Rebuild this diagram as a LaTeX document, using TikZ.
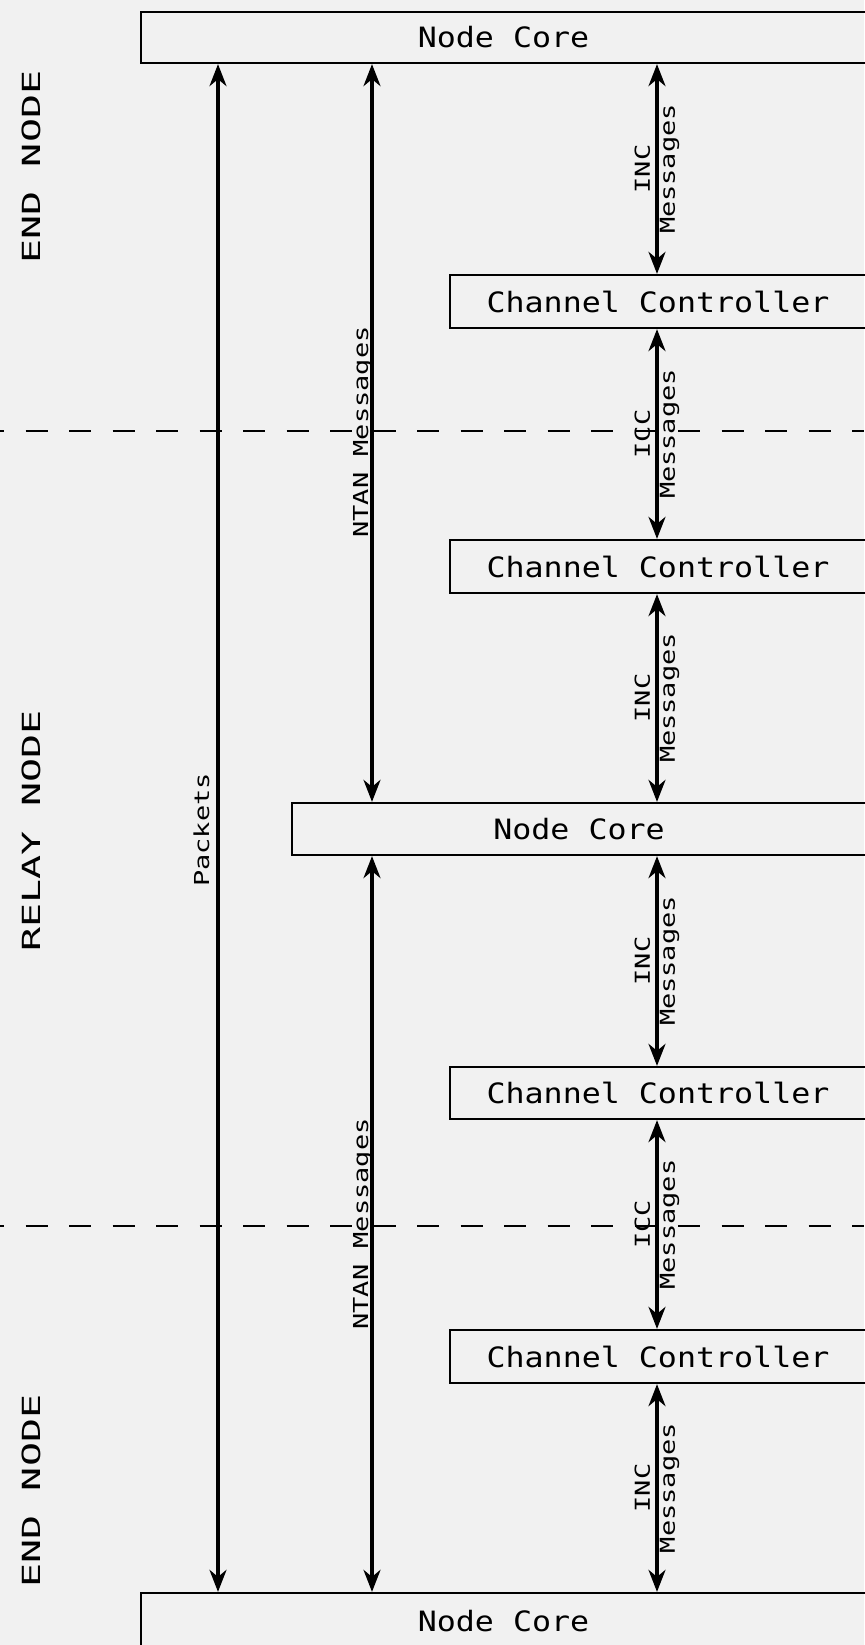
\documentclass[tikz,border=0pt]{standalone}
\usepackage{fontspec}
\usepackage{tikz}
\usetikzlibrary{arrows.meta}

\newfontfamily\boxfont[FakeStretch=1.13]{DejaVu Sans Mono}
\newfontfamily\msgfont[FakeStretch=1.31]{DejaVu Sans Mono}
\newfontfamily\sidefont[FakeStretch=1.6]{DejaVu Sans Mono}
\definecolor{paper}{RGB}{241,241,241}

\begin{document}
\begin{tikzpicture}[x=1pt, y=-1pt,
  unit/.style={draw, line width=2.3pt, inner sep=0pt, font=\boxfont\fontsize{28}{30}\selectfont},
  flow/.style={line width=3.2pt, {Stealth[length=22pt,width=17pt,inset=7pt]}-{Stealth[length=22pt,width=17pt,inset=7pt]}},
  msg/.style={rotate=90, inner sep=0pt, align=center, font=\msgfont\fontsize{20.6}{25}\selectfont},
  flowlbl/.style={rotate=90, anchor=base, inner sep=0pt, font=\msgfont\fontsize{20.6}{25}\selectfont},
  side/.style={rotate=90, anchor=base, inner sep=0pt, font=\sidefont\fontsize{25}{27}\selectfont},
  border/.style={line width=1.8pt, dash pattern=on 22pt off 21.5pt, dash phase=18pt}]

% Page background
\useasboundingbox[fill=paper] (0,0) rectangle (864,1645);

% Node cores and channel controllers
\node[unit, minimum width=725pt, minimum height=51pt] (core1) at (503.5,37.5) {Node Core};
\node[unit, minimum width=416pt, minimum height=53pt] (cc1) at (658,301.5) {Channel Controller};
\node[unit, minimum width=416pt, minimum height=53pt] (cc2) at (658,566.5) {Channel Controller};
\node[unit, minimum width=574pt, minimum height=52pt] (core2) at (579,829) {Node Core};
\node[unit, minimum width=416pt, minimum height=52pt] (cc3) at (658,1093) {Channel Controller};
\node[unit, minimum width=416pt, minimum height=53pt] (cc4) at (658,1356.5) {Channel Controller};
\node[unit, minimum width=725pt, minimum height=57pt] (core3) at (503.5,1621.5) {Node Core};

% Columns of the flows
\coordinate (pk) at (218,0);
\coordinate (nt) at (372,0);
\coordinate (ic) at (657,0);

% Node boundaries
\draw[border] (0,431) -- (864,431);
\draw[border] (0,1226) -- (864,1226);

% Side labels
\node[side] (endtop) at (40,167) {END NODE};
\node[side] (relay) at (40,831) {RELAY NODE};
\node[side] (endbot) at (40,1491) {END NODE};

% Packets
\draw[flow] (pk |- core1.south) -- (pk |- core3.north);
\node[flowlbl] (pklbl) at (209,830) {Packets};

% NTAN messages
\draw[flow] (nt |- core1.south) -- (nt |- core2.north);
\draw[flow] (nt |- core2.south) -- (nt |- core3.north);
\node[flowlbl] (ntlbl1) at (368,432) {NTAN Messages};
\node[flowlbl] (ntlbl2) at (368,1224) {NTAN Messages};

% INC and ICC messages
\draw[flow] (ic |- core1.south) -- (ic |- cc1.north) node[midway, msg] {INC\\Messages};
\draw[flow] (ic |- cc1.south) -- (ic |- cc2.north) node[midway, msg] {ICC\\Messages};
\draw[flow] (ic |- cc2.south) -- (ic |- core2.north) node[midway, msg] {INC\\Messages};
\draw[flow] (ic |- core2.south) -- (ic |- cc3.north) node[midway, msg] {INC\\Messages};
\draw[flow] (ic |- cc3.south) -- (ic |- cc4.north) node[midway, msg] {ICC\\Messages};
\draw[flow] (ic |- cc4.south) -- (ic |- core3.north) node[midway, msg] {INC\\Messages};

\end{tikzpicture}
\end{document}
